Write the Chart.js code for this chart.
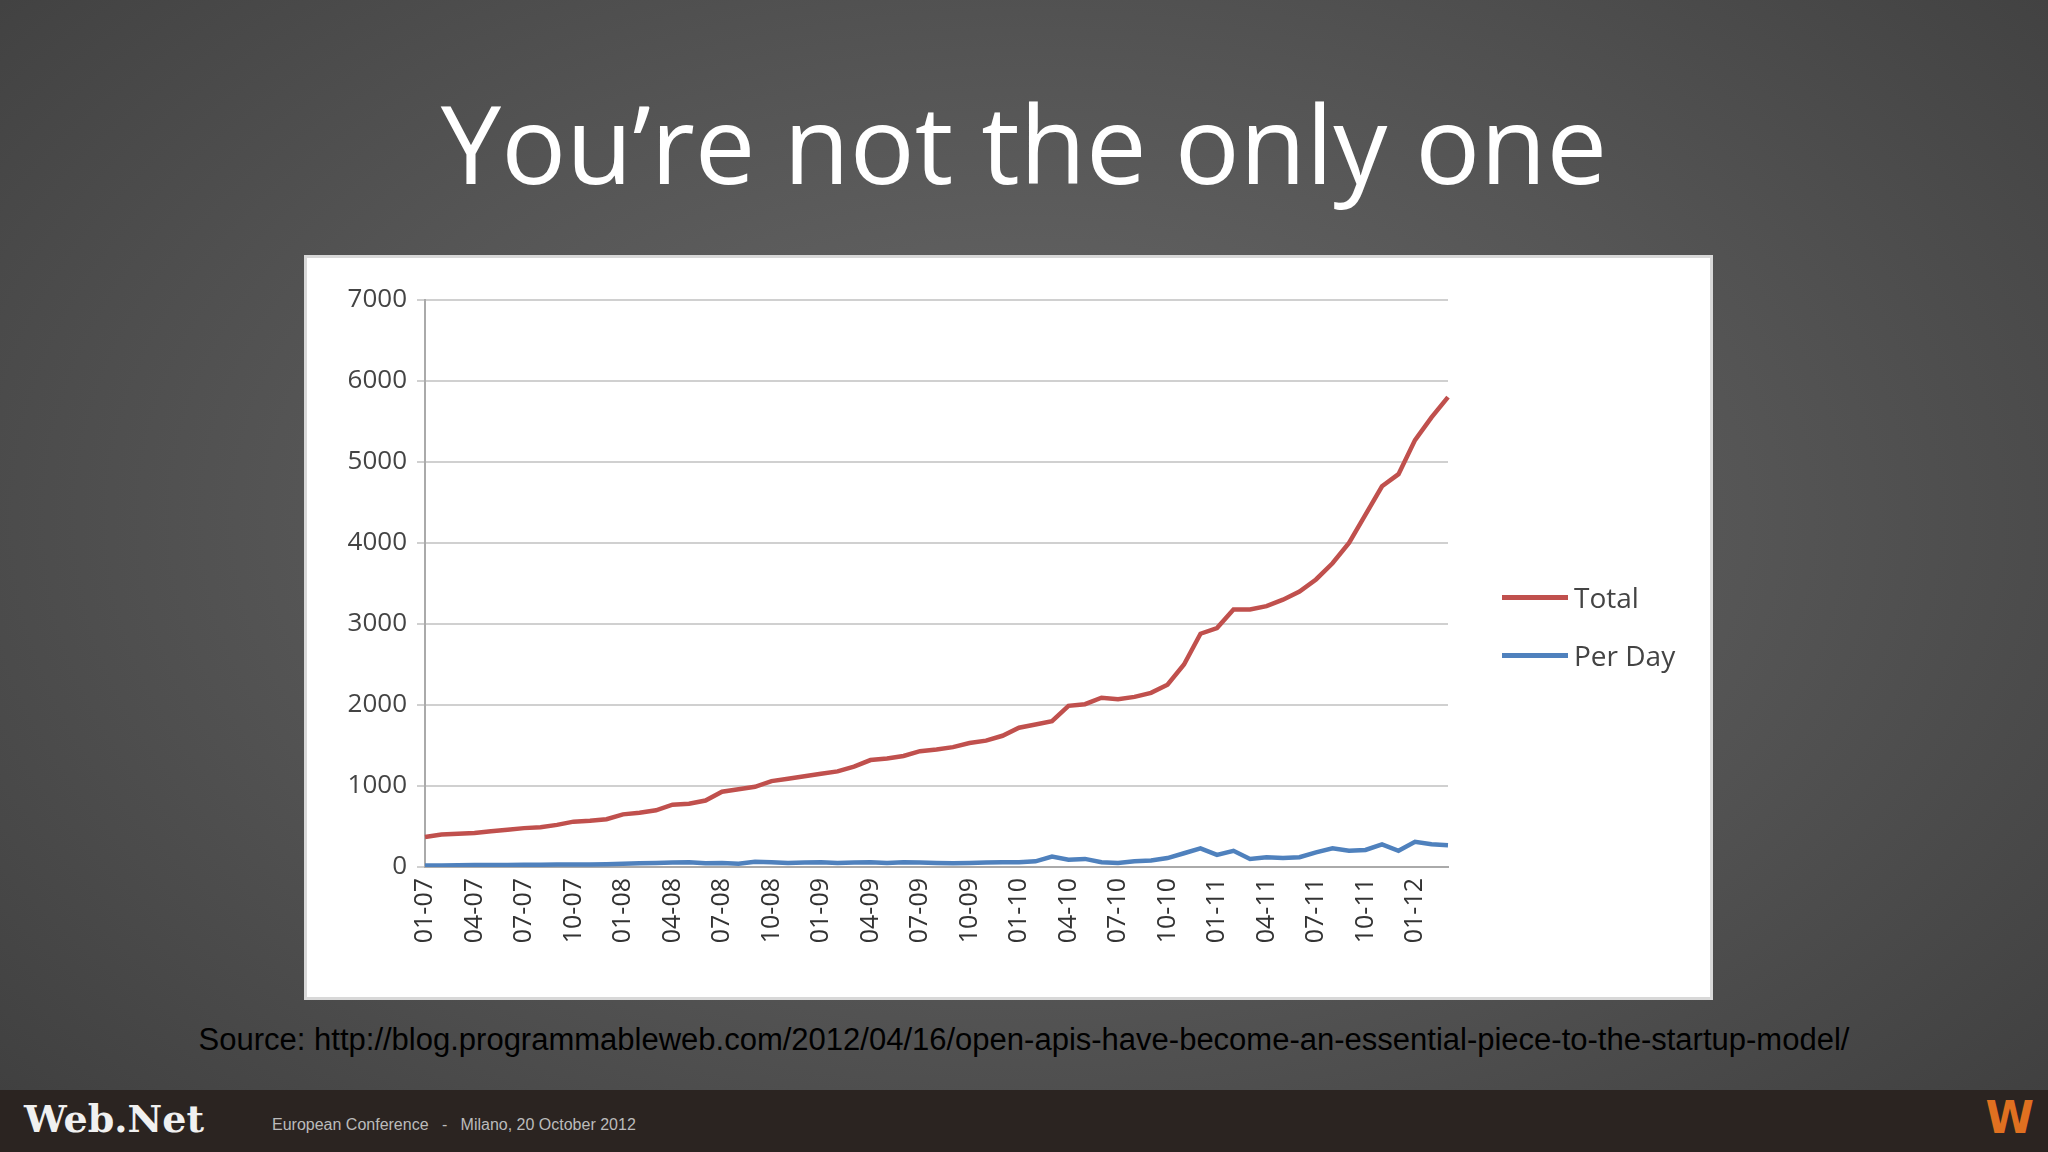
<!DOCTYPE html>
<html><head><meta charset="utf-8">
<script src="https://cdn.jsdelivr.net/npm/chart.js@4"></script>
<style>
html,body{margin:0;padding:0;width:2048px;height:1152px;overflow:hidden;font-family:"Open Sans",sans-serif}
body{background:radial-gradient(ellipse at 50% 45%,#6a6a6a 0%,#555 50%,#3e3e3e 100%)}
#title{position:absolute;left:0;width:2048px;top:78px;text-align:center;color:#fff;font-size:108px;line-height:130px}
#box{position:absolute;left:304px;top:255px;width:1403px;height:739px;background:#fff;border:3px solid #d8d8d8}
#legend{position:absolute;left:1195px;top:310px;font-family:"Open Sans",sans-serif;font-size:28px;color:#444}
#legend div{display:flex;align-items:center;height:58px}
#legend span.l{display:inline-block;width:66px;height:5px;margin-right:6px}
#src{position:absolute;left:0;width:2048px;top:1022px;text-align:center;color:#000;font-family:"Liberation Sans",Arial,sans-serif;font-size:31px}
#foot{position:absolute;left:0;top:1090px;width:2048px;height:62px;background:#2b2421}
#wn{position:absolute;left:24px;top:6px;color:#f0f0f0;font-family:"DejaVu Serif",serif;font-weight:bold;font-size:38px}
#conf{position:absolute;left:272px;top:26px;color:#bbb;font-family:"Liberation Sans",sans-serif;font-size:16px}
#logo{position:absolute;right:14px;top:2px;color:#e07020;font-family:"DejaVu Sans",sans-serif;font-weight:bold;font-size:44px}
</style></head><body>
<div id="title">You’re not the only one</div>
<div id="box"><canvas id="c"></canvas>
<div id="legend"><div><span class="l" style="background:#c0504d"></span>Total</div><div><span class="l" style="background:#4f81bd"></span>Per Day</div></div>
</div>
<div id="src">Source: http://blog.programmableweb.com/2012/04/16/open-apis-have-become-an-essential-piece-to-the-startup-model/</div>
<div id="foot"><div id="wn">Web.Net</div><div id="conf">European Conference &nbsp; - &nbsp; Milano, 20 October 2012</div><div id="logo">W</div></div>
<script>
const months = [];
for (let y = 7; y <= 12; y++) for (let m = 1; m <= 12; m++) { if (y === 12 && m > 3) break; months.push(String(m).padStart(2,'0') + '-' + String(y).padStart(2,'0')); }
const totalValues = [370,400,410, 420,440,460, 480,490,520, 560,570,590,
 650,670,700, 770,780,820, 930,960,990, 1060,1090,1120,
 1150,1180,1240, 1320,1340,1370, 1430,1450,1480, 1530,1560,1620,
 1720,1760,1800, 1990,2010,2090, 2070,2100,2150, 2250,2500,2880,
 2950,3180,3180, 3220,3300,3400, 3550,3750,4000, 4350,4700,4850,
 5270,5550,5800];
const perDayValues = [20,20,22,25,25,25,28,28,30,30,32,35,
 40,45,50,55,60,45,50,40,65,60,50,55,
 60,50,55,60,50,60,55,50,45,50,55,60,
 60,70,130,90,100,60,50,70,80,110,170,230,
 150,200,100,120,110,120,180,230,200,210,280,200,
 310,280,270];
new Chart(document.getElementById('c'), {
 type:'line',
 data:{labels:months,datasets:[
  {label:'Total',data:totalValues,borderColor:'#c0504d',borderWidth:4.5,pointRadius:0,tension:0},
  {label:'Per Day',data:perDayValues,borderColor:'#4f81bd',borderWidth:4.5,pointRadius:0,tension:0}]},
 options:{responsive:true,maintainAspectRatio:false,animation:false,
  layout:{padding:{top:42,left:6,right:262,bottom:8}},
  plugins:{legend:{display:false},tooltip:{enabled:false}},
  scales:{
   y:{min:0,max:7000,ticks:{stepSize:1000,color:'#444',font:{family:'Open Sans',size:26},padding:10,callback:v=>String(v)},
      grid:{color:'#d0d0d0',lineWidth:2,drawTicks:true,tickLength:8},border:{color:'#aaa',width:2},
      afterFit(s){s.width=112;}},
   x:{offset:false,grid:{display:false},border:{color:'#aaa',width:2},
      ticks:{autoSkip:false,maxRotation:90,minRotation:90,color:'#333',font:{family:'Open Sans',size:25},
        callback(v,i){return i%3===0?months[i]:'';}},
      afterFit(s){s.height=122;}}
  }}
});
</script></body></html>
